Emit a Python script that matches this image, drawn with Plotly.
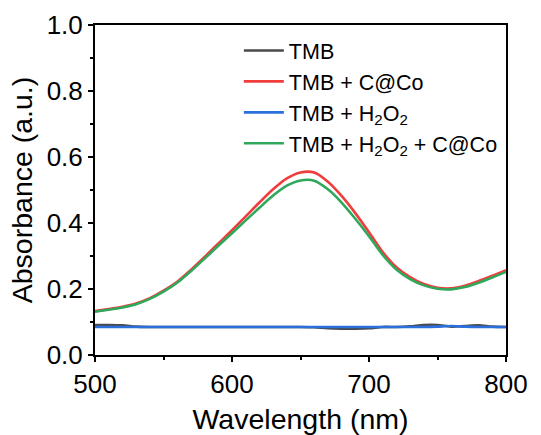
import plotly.graph_objects as go

wavelength = [500, 510, 520, 530, 540, 550, 560, 570, 580, 590, 600, 610, 620, 630, 640, 650,
              660, 670, 680, 690, 700, 710, 720, 730, 740, 750, 760, 770, 780, 790, 800]

tmb = [0.091, 0.091, 0.090, 0.086, 0.085, 0.085, 0.085, 0.085, 0.085, 0.085, 0.085, 0.085, 0.085,
       0.085, 0.085, 0.085, 0.084, 0.081, 0.080, 0.080, 0.081, 0.085, 0.085, 0.087, 0.091, 0.091,
       0.086, 0.088, 0.090, 0.086, 0.085]
tmb_ccoo = [0.133, 0.139, 0.146, 0.156, 0.172, 0.195, 0.222, 0.258, 0.297, 0.338, 0.378, 0.420,
            0.462, 0.502, 0.535, 0.553, 0.553, 0.525, 0.482, 0.430, 0.372, 0.312, 0.266, 0.236,
            0.215, 0.204, 0.202, 0.210, 0.224, 0.240, 0.257]
tmb_h2o2 = [0.085, 0.085, 0.085, 0.085, 0.085, 0.085, 0.085, 0.085, 0.085, 0.085, 0.085, 0.085,
            0.085, 0.085, 0.085, 0.085, 0.085, 0.085, 0.085, 0.085, 0.085, 0.085, 0.085, 0.085,
            0.085, 0.086, 0.088, 0.086, 0.085, 0.085, 0.085]
tmb_h2o2_ccoo = [0.131, 0.137, 0.144, 0.154, 0.170, 0.192, 0.219, 0.254, 0.292, 0.331, 0.369,
                 0.408, 0.446, 0.483, 0.513, 0.529, 0.528, 0.502, 0.462, 0.413, 0.360, 0.303,
                 0.259, 0.230, 0.211, 0.201, 0.199, 0.206, 0.219, 0.235, 0.252]

names = ["TMB", "TMB + C@Co", "TMB + H<sub>2</sub>O<sub>2</sub>",
         "TMB + H<sub>2</sub>O<sub>2</sub> + C@Co"]
colors = ["#4a4a4a", "#f03c3c", "#2b6fdc", "#30a85c"]
series = [tmb, tmb_ccoo, tmb_h2o2, tmb_h2o2_ccoo]

fig = go.Figure()
for name, c, ys in zip(names, colors, series):
    fig.add_trace(go.Scatter(x=wavelength, y=ys, mode="lines", name=name,
                             line=dict(color=c, width=2.6, shape="spline", smoothing=0.8)))

font_family = "Liberation Sans, Arial, sans-serif"
fig.update_layout(
    width=541, height=435,
    margin=dict(l=95, r=35, t=25, b=80),
    paper_bgcolor="white", plot_bgcolor="white",
    font=dict(family=font_family, color="black", size=24),
    showlegend=True,
    legend=dict(x=0.35, y=0.985, xanchor="left", yanchor="top",
                bgcolor="rgba(0,0,0,0)", font=dict(size=21.5, family=font_family),
                tracegroupgap=0, itemwidth=40),
    xaxis=dict(range=[500, 800], tickvals=[500, 600, 700, 800], automargin=False,
               showline=True, linecolor="black", linewidth=2, mirror=True,
               ticks="outside", ticklen=5, tickwidth=2, tickcolor="black",
               minor=dict(tickvals=[550, 650, 750], ticks="outside", ticklen=3,
                          tickwidth=2, tickcolor="black"),
               showgrid=False, zeroline=False,
               tickfont=dict(size=26),
               title=dict(text="Wavelength (nm)", font=dict(size=28.5), standoff=12)),
    yaxis=dict(range=[0, 1.0], tickvals=[0, 0.2, 0.4, 0.6, 0.8, 1.0], tickformat=".1f",
               automargin=False,
               showline=True, linecolor="black", linewidth=2, mirror=True,
               ticks="outside", ticklen=5, tickwidth=2, tickcolor="black",
               minor=dict(tickvals=[0.1, 0.3, 0.5, 0.7, 0.9], ticks="outside", ticklen=3,
                          tickwidth=2, tickcolor="black"),
               showgrid=False, zeroline=False,
               tickfont=dict(size=26),
               title=dict(text="Absorbance (a.u.)", font=dict(size=28.5), standoff=6)),
)

fig.write_html("out.html")
